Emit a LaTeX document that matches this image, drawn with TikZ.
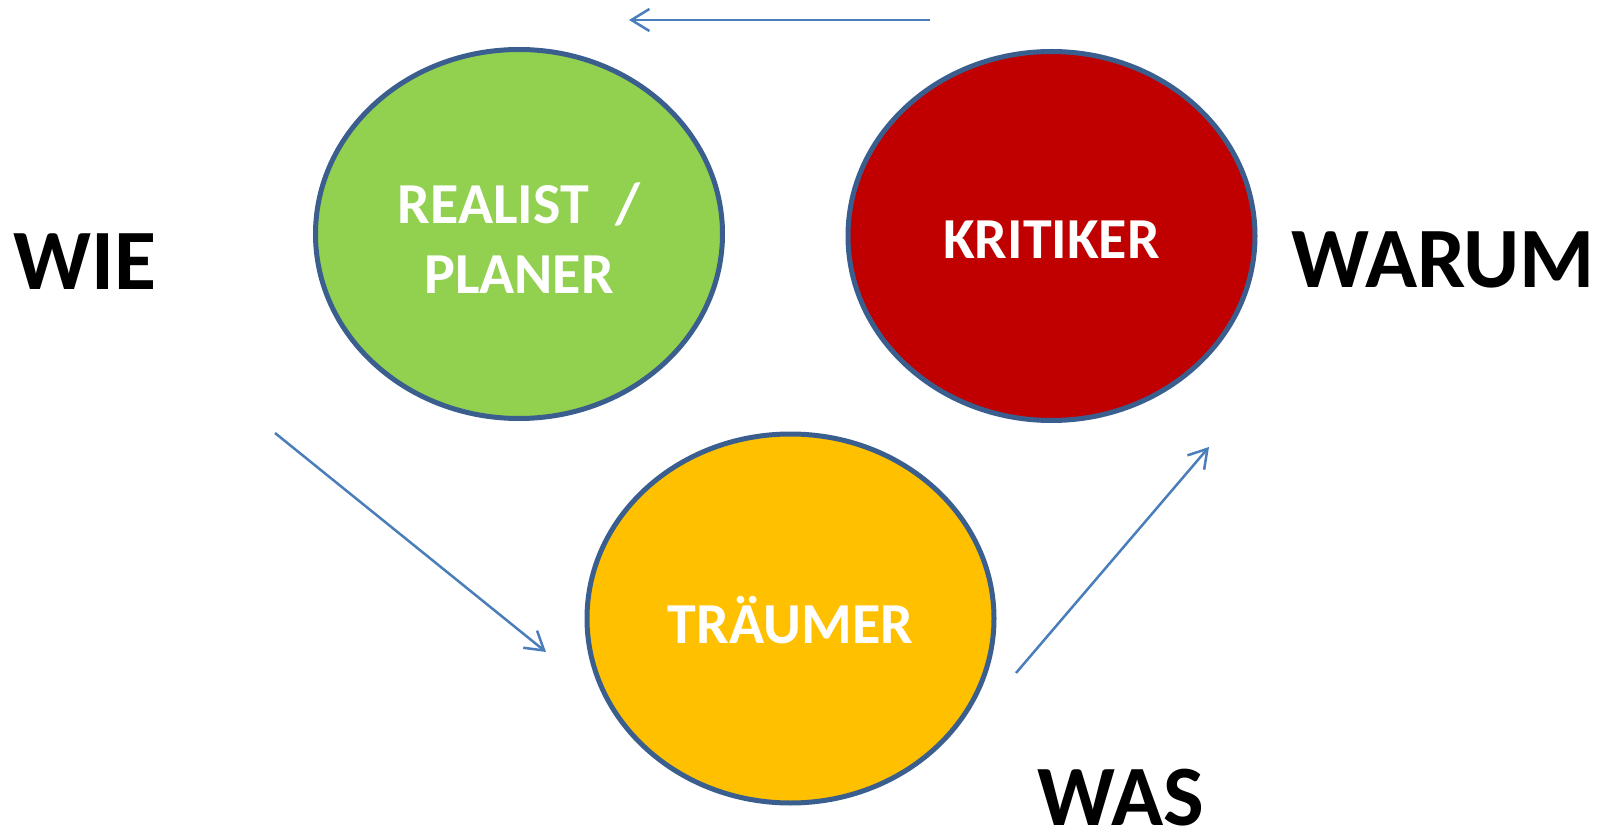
\documentclass[tikz,border=0pt]{standalone}
\usepackage{fontspec}
\setmainfont{Carlito}
\usetikzlibrary{shapes.geometric,arrows.meta}
\definecolor{gruen}{HTML}{92D050}
\definecolor{rot}{HTML}{C00000}
\definecolor{gelb}{HTML}{FFC000}
\definecolor{rand}{HTML}{3A5F8F}
\definecolor{pfeil}{HTML}{4A7EBB}
\tikzset{
  kreis/.style={ellipse, draw=rand, line width=5pt, minimum width=407pt, minimum height=369pt, inner sep=0pt},
  kreistext/.style={text=white, font=\fontsize{58}{70}\selectfont\bfseries, align=center},
  wort/.style={font=\fontsize{86}{100}\selectfont\bfseries, text=black, inner sep=0pt},
  pfeilstil/.style={draw=pfeil, line width=2.5pt, -{Straight Barb[length=18pt, width=22pt, line width=2.5pt]}}
}
\begin{document}
\begin{tikzpicture}[x=1pt,y=-1pt]
\useasboundingbox (0,0) rectangle (1607,834);
\node[kreis, fill=gruen] (realist) at (519,234) {};
\node[kreistext] (realisttext) at (519,238) {REALIST\ \ /\\PLANER};
\node[kreis, fill=rot] (kritiker) at (1051.5,236) {};
\node[kreistext] (kritikertext) at (1051.5,240) {KRITIKER};
\node[kreis, fill=gelb] (traeumer) at (790.5,618.5) {};
\node[kreistext] (traeumertext) at (790.5,620) {TRÄUMER};
\node[wort] (wie) at (85,262) {WIE};
\node[wort] (warum) at (1443,260) {WARUM};
\node[wort] (was) at (1121,798) {WAS};
\coordinate (a1) at (930,20);
\coordinate (a2) at (629,20);
\coordinate (b1) at (275,433);
\coordinate (b2) at (546,652);
\coordinate (c1) at (1016,673);
\coordinate (c2) at (1209,447);
\draw[pfeilstil] (a1) -- (a2);
\draw[pfeilstil] (b1) -- (b2);
\draw[pfeilstil] (c1) -- (c2);
\end{tikzpicture}
\end{document}
